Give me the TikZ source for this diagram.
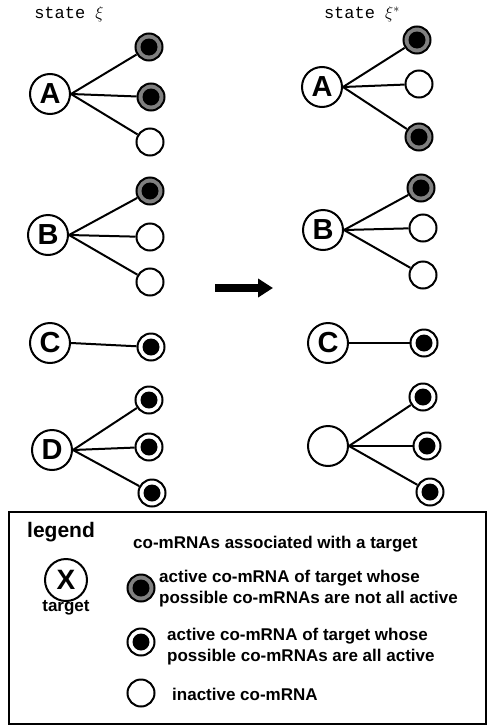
\documentclass[tikz,border=0pt]{standalone}
\usepackage{fontspec}
\setsansfont{Liberation Sans}
\setmonofont{Liberation Mono}
\usetikzlibrary{arrows.meta}
\begin{document}
\begin{tikzpicture}[x=1pt,y=-1pt,
    tgt/.style={circle,draw,line width=2pt,fill=white,minimum size=40pt,inner sep=0pt,
      font=\sffamily\bfseries\fontsize{29}{29}\selectfont},
    mrna/.style={circle,draw,line width=2pt,fill=white,minimum size=27pt,inner sep=0pt},
    dot/.style={circle,fill=black,minimum size=17pt,inner sep=0pt},
    partact/.style={mrna,fill=gray,label={[dot]center:}},
    fullact/.style={mrna,label={[dot]center:}},
    inact/.style={mrna},
    lbl/.style={anchor=west,inner sep=0pt,align=left,font=\sffamily\bfseries\fontsize{17}{21}\selectfont}]
      \useasboundingbox (0,0) rectangle (488,726);
      \node (lstate) at (69,14) {\ttfamily\fontsize{17}{17}\selectfont state $\xi$};
      \node (rstate) at (362,14) {\ttfamily\fontsize{17}{17}\selectfont state $\xi^{*}$};
      \draw
        (50,94) node[tgt] (A){A}
        (149,47) node[partact] (a1){}
        (151,97) node[partact] (a2){}
        (150,142) node[inact] (a3){}
        (48,235) node[tgt] (B){B}
        (150,191) node[partact] (b1){}
        (150,237) node[inact] (b2){}
        (150,282) node[inact] (b3){}
        (50,343) node[tgt] (C){C}
        (151,347) node[fullact] (c1){}
        (52,450) node[tgt] (D){D}
        (149,400) node[fullact] (d1){}
        (149,447) node[fullact] (d2){}
        (152,493) node[fullact] (d3){};
      \draw
        (322,87) node[tgt] (A'){A}
        (417,40) node[partact] (a1'){}
        (419,84) node[inact] (a2'){}
        (419,137) node[partact] (a3'){}
        (323,230) node[tgt] (B'){B}
        (421,188) node[partact] (b1'){}
        (423,228) node[inact] (b2'){}
        (423,275) node[inact] (b3'){}
        (328,343) node[tgt] (C'){C}
        (424,343) node[fullact] (c1'){}
        (328,446) node[tgt] (D'){}
        (423,397) node[fullact] (d1'){}
        (427,446) node[fullact] (d2'){}
        (430,492) node[fullact] (d3'){};
      \begin{scope}[-,line width=2pt]
        \draw (A.east) to (a1);
        \draw (A.east) to (a2);
        \draw (A.east) to (a3);
        \draw (B.east) to (b1);
        \draw (B.east) to (b2);
        \draw (B.east) to (b3);
        \draw (C.east) to (c1);
        \draw (D.east) to (d1);
        \draw (D.east) to (d2);
        \draw (D.east) to (d3);
        \draw (A'.east) to (a1');
        \draw (A'.east) to (a2');
        \draw (A'.east) to (a3');
        \draw (B'.east) to (b1');
        \draw (B'.east) to (b2');
        \draw (B'.east) to (b3');
        \draw (C'.east) to (c1');
        \draw (D'.east) to (d1');
        \draw (D'.east) to (d2');
        \draw (D'.east) to (d3');
      \end{scope}
      \coordinate (arrS) at (215,288);
      \coordinate (arrE) at (273,288);
      \draw[line width=8pt,-{Triangle[length=15pt,width=18pt]}] (arrS) -- (arrE);
      \draw[line width=2pt] (9,512) rectangle (486,724);
      \node[anchor=west,inner sep=0pt,font=\sffamily\bfseries\fontsize{21}{21}\selectfont] (legend) at (27,532) {legend};
      \node[lbl] (assoc) at (133,544) {co-mRNAs associated with a target};
      \node[tgt,font=\sffamily\bfseries\fontsize{28}{28}\selectfont,minimum size=42pt] (X) at (66,580) {X};
      \node[inner sep=0pt,font=\sffamily\bfseries\fontsize{17}{17}\selectfont] (xlbl) at (66,608) {target};
      \node[partact] (k1) at (141,588) {};
      \node[lbl] (k1txt) at (159,589) {active co-mRNA of target whose\\possible co-mRNAs are not all active};
      \node[fullact] (k2) at (141,642) {};
      \node[lbl] (k2txt) at (167,647) {active co-mRNA of target whose\\possible co-mRNAs are all active};
      \node[inact] (k3) at (141,693) {};
      \node[lbl] (k3txt) at (172,694) {inactive co-mRNA};
    \end{tikzpicture}
\end{document}
